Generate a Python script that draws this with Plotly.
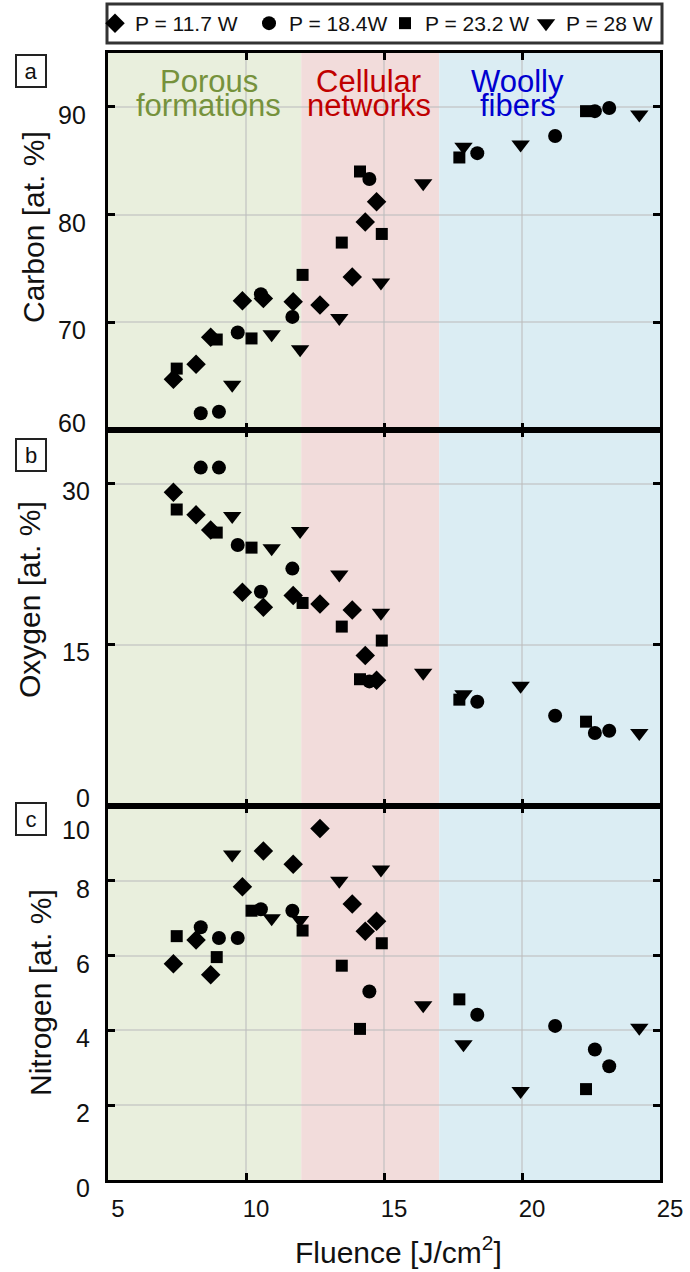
import plotly.graph_objects as go

# ---- data: fluence [J/cm2] and surface composition [at. %] per laser power ----
series_names = ["P = 11.7 W", "P = 18.4W", "P = 23.2 W", "P = 28 W"]
series_symbols = ["diamond", "circle", "square", "triangle-down"]
series_sizes = [15, 14, 12, 16]

fluence_117 = [7.37, 8.19, 8.72, 9.87, 10.63, 11.71, 12.68, 13.85, 14.32, 14.73]
carbon_117 = [64.7, 66.1, 68.6, 72.0, 72.2, 71.9, 71.6, 74.2, 79.3, 81.2]
oxygen_117 = [29.2, 27.1, 25.7, 19.9, 18.5, 19.6, 18.8, 18.25, 14.0, 11.7]
nitrogen_117 = [5.78, 6.42, 5.49, 7.84, 8.8, 8.44, 9.4, 7.38, 6.65, 6.92]

fluence_184 = [8.36, 9.02, 9.70, 10.54, 11.68, 14.47, 18.38, 21.20, 22.64, 23.16]
carbon_184 = [61.55, 61.7, 69.05, 72.6, 70.5, 83.3, 85.7, 87.3, 89.6, 89.9]
oxygen_184 = [31.5, 31.5, 24.3, 19.95, 22.1, 11.6, 9.7, 8.4, 6.8, 7.0]
nitrogen_184 = [6.76, 6.47, 6.47, 7.24, 7.2, 5.04, 4.42, 4.12, 3.49, 3.04]

fluence_232 = [7.49, 8.94, 10.20, 12.05, 13.47, 14.13, 14.92, 17.73, 22.32]
carbon_232 = [65.7, 68.4, 68.5, 74.4, 77.4, 84.0, 78.2, 85.3, 89.6]
oxygen_232 = [27.6, 25.45, 24.05, 18.9, 16.7, 11.8, 15.4, 9.9, 7.85]
nitrogen_232 = [6.52, 5.96, 7.2, 6.67, 5.73, 4.04, 6.33, 4.83, 2.43]

fluence_280 = [9.50, 10.93, 11.96, 13.38, 14.89, 16.42, 17.88, 19.95, 24.25]
carbon_280 = [64.2, 68.9, 67.5, 70.4, 73.7, 82.9, 86.3, 86.5, 89.3]
oxygen_280 = [27.0, 24.0, 25.6, 21.55, 18.0, 12.4, 10.4, 11.2, 6.8]
nitrogen_280 = [8.7, 7.0, 6.95, 8.0, 8.3, 4.67, 3.63, 2.38, 4.07]

fluences = [fluence_117, fluence_184, fluence_232, fluence_280]
carbon = [carbon_117, carbon_184, carbon_232, carbon_280]
oxygen = [oxygen_117, oxygen_184, oxygen_232, oxygen_280]
nitrogen = [nitrogen_117, nitrogen_184, nitrogen_232, nitrogen_280]

# morphology regimes along the fluence axis
region_edges = [5, 12, 17, 25]
region_fills = ["#e9efdd", "#f2dcdb", "#dbedf3"]
region_labels = [("Porous", "formations"), ("Cellular", "networks"), ("Woolly", "fibers")]
region_label_x = [8.65, 14.45, 19.85]
region_colors = ["#76923c", "#c00000", "#0000d0"]

x_ticks = [5, 10, 15, 20, 25]
panel_letters = ["a", "b", "c"]
panel_titles = ["Carbon [at. %]", "Oxygen [at. %]", "Nitrogen [at. %]"]
panel_ranges = [[60, 95], [0, 35], [0, 10]]
panel_ticks = [[60, 70, 80, 90], [0, 15, 30], [0, 2, 4, 6, 8, 10]]

# ---- page geometry (pixels) ----
W, H = 690, 1272
L, R, T, B = 108, 660, 53, 1180
SPLIT_AB, SPLIT_BC = 430, 806
LEGEND_ITEM_LEFT = [95, 249, 385, 526]   # one legend box per power setting
LEGEND_TOP = 3


def fx(px):
    return (px - L) / (R - L)


def fy(py):
    return (B - py) / (B - T)


domains = [[fy(SPLIT_AB), 1.0], [fy(SPLIT_BC), fy(SPLIT_AB)], [0.0, fy(SPLIT_BC)]]
FONT = "Liberation Sans, Arial, sans-serif"
INK = "#111111"
legend_ids = ["legend", "legend2", "legend3", "legend4"]

fig = go.Figure()

datasets = [carbon, oxygen, nitrogen]
for p in range(3):
    xa = "x" if p == 0 else f"x{p + 1}"
    ya = "y" if p == 0 else f"y{p + 1}"
    for k in range(4):
        fig.add_trace(go.Scatter(
            x=fluences[k], y=datasets[p][k], xaxis=xa, yaxis=ya,
            mode="markers", name=series_names[k], legendgroup=series_names[k],
            legend=legend_ids[k], showlegend=(p == 0),
            marker=dict(symbol=series_symbols[k], size=series_sizes[k], color="black",
                        line=dict(width=0)),
        ))

axis_common = dict(
    showline=True, linecolor="black", linewidth=3, mirror="ticks",
    ticks="inside", ticklen=7, tickwidth=3, tickcolor="black",
    showgrid=True, gridcolor="rgba(190,190,190,0.55)", gridwidth=2,
    zeroline=False,
)

layout = dict(
    width=W, height=H,
    margin=dict(l=L, r=W - R, t=T, b=H - B, autoexpand=False),
    paper_bgcolor="white", plot_bgcolor="rgba(0,0,0,0)",
    font=dict(family=FONT, color=INK, size=22),
    showlegend=True,
)
for k, lid in enumerate(legend_ids):
    layout[lid] = dict(
        orientation="h", xref="container", yref="container",
        x=LEGEND_ITEM_LEFT[k] / W, y=1 - LEGEND_TOP / H, xanchor="left", yanchor="top",
        bgcolor="rgba(0,0,0,0)", borderwidth=0, itemwidth=30,
        font=dict(size=21, family=FONT, color=INK),
    )

for p in range(3):
    xkey = "xaxis" if p == 0 else f"xaxis{p + 1}"
    ykey = "yaxis" if p == 0 else f"yaxis{p + 1}"
    ya = "y" if p == 0 else f"y{p + 1}"
    xa = "x" if p == 0 else f"x{p + 1}"
    layout[xkey] = dict(
        axis_common, range=[region_edges[0], region_edges[-1]], tickvals=x_ticks,
        anchor=ya, domain=[0, 1], showticklabels=(p == 2),
        tickfont=dict(size=24, family=FONT, color=INK),
        ticklabelshift=10, ticklabelstandoff=5,
    )
    if p < 2:
        layout[xkey]["matches"] = "x3"
    layout[ykey] = dict(
        axis_common, range=panel_ranges[p], tickvals=panel_ticks[p],
        anchor=xa, domain=domains[p], showticklabels=False,
    )

fig.update_layout(**layout)

# shaded morphology regimes in every panel
for p in range(3):
    xa = "x" if p == 0 else f"x{p + 1}"
    ya = "y" if p == 0 else f"y{p + 1}"
    for i in range(3):
        fig.add_shape(type="rect", xref=xa, yref=f"{ya} domain",
                      x0=region_edges[i], x1=region_edges[i + 1], y0=0, y1=1,
                      fillcolor=region_fills[i], line=dict(width=0), layer="below")

# legend frame
fig.add_shape(type="rect", xref="paper", yref="paper",
              x0=fx(107), x1=fx(662), y0=fy(43), y1=fy(4),
              line=dict(color="#333333", width=3), fillcolor="rgba(0,0,0,0)")

# y tick labels, nudged like the original artwork
tick_label_right = [88, 92, 92]
tick_label_shift = [
    {60: 7, 70: -8, 80: -8, 90: -8},
    {0: 8, 15: -7, 30: -7},
    {0: -8, 2: -8, 4: -8, 6: -8, 8: -8, 10: -24},
]
for p in range(3):
    ya = "y" if p == 0 else f"y{p + 1}"
    for v in panel_ticks[p]:
        fig.add_annotation(text=str(v), xref="paper", yref=ya,
                           x=fx(tick_label_right[p]), y=v, xanchor="right", yanchor="middle",
                           yshift=tick_label_shift[p][v], showarrow=False,
                           font=dict(size=25, family=FONT, color=INK))

# y axis titles
title_pos = [(33, 227), (29, 600), (40, 993)]
for p in range(3):
    tx, ty = title_pos[p]
    fig.add_annotation(text=panel_titles[p], xref="paper", yref="paper",
                       x=fx(tx), y=fy(ty), xanchor="center", yanchor="middle",
                       textangle=-90, showarrow=False,
                       font=dict(size=30, family=FONT, color=INK))

# panel letters in boxes
letter_pos = [(31, 71), (31, 455), (31, 819)]
for p in range(3):
    lx, ly = letter_pos[p]
    fig.add_annotation(text=panel_letters[p], xref="paper", yref="paper",
                       x=fx(lx), y=fy(ly), xanchor="center", yanchor="middle",
                       showarrow=False, width=26, height=28, borderpad=1,
                       bordercolor="#222222", borderwidth=2, bgcolor="white",
                       font=dict(size=22, family=FONT, color=INK))

# region names, one annotation per line for tight leading
for i in range(3):
    for j, line_y in enumerate((82, 106)):
        fig.add_annotation(text=region_labels[i][j], xref="x", yref="paper",
                           x=region_label_x[i], y=fy(line_y), xanchor="center",
                           yanchor="middle", showarrow=False,
                           font=dict(size=31, family=FONT, color=region_colors[i]))

# x axis title
fig.add_annotation(text="Fluence [J/cm<sup>2</sup>]", xref="paper", yref="paper",
                   x=fx(398), y=fy(1250), xanchor="center", yanchor="middle",
                   showarrow=False, font=dict(size=30, family=FONT, color=INK))

fig.write_html("out.html")
